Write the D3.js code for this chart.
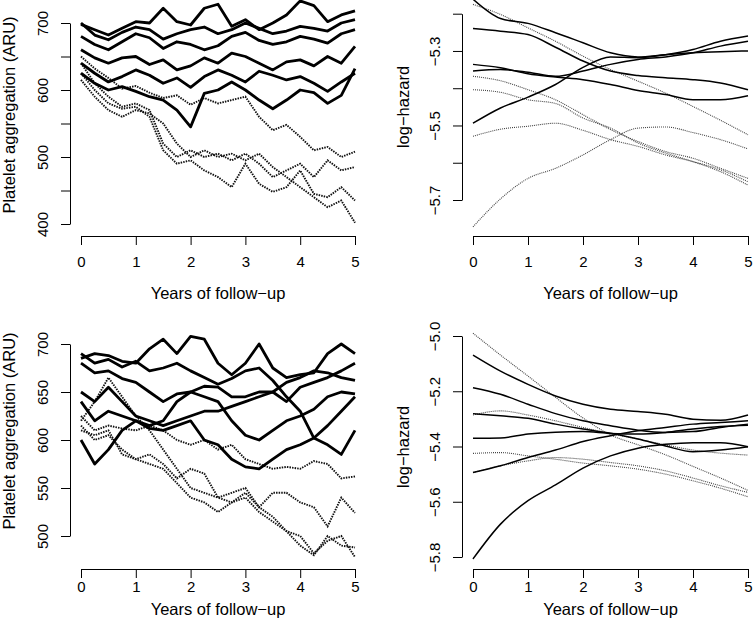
<!DOCTYPE html>
<html>
<head>
<meta charset="utf-8">
<script src="https://cdn.jsdelivr.net/npm/d3@7"></script>
<style>
  body { margin: 0; background: #fff; }
  text { font-family: "Liberation Sans", Arial, Helvetica, sans-serif; fill: #000; }
</style>
</head>
<body>
<div id="chart"></div>
<script>
// Time grids (years of follow-up)
const yearsFine = [0, 0.25, 0.5, 0.75, 1, 1.25, 1.5, 1.75, 2, 2.25, 2.5, 2.75, 3, 3.25, 3.5, 3.75, 4, 4.25, 4.5, 4.75, 5];
const yearsCoarse = [0, 0.5, 1, 1.5, 2, 2.5, 3, 3.5, 4, 4.5, 5];
const xTicks = [0, 1, 2, 3, 4, 5];

// Top-left: platelet aggregation (ARU), solid and dotted trajectories
const topAggSolid = [
  [698, 690, 682, 692, 702, 700, 722, 702, 697, 722, 728, 695, 705, 690, 700, 712, 733, 726, 702, 712, 718],
  [700, 682, 675, 686, 694, 690, 676, 684, 690, 694, 684, 690, 700, 692, 684, 688, 695, 692, 688, 700, 705],
  [680, 668, 660, 672, 684, 678, 662, 672, 668, 660, 666, 680, 686, 674, 668, 672, 680, 676, 670, 684, 690],
  [660, 648, 640, 648, 650, 638, 645, 630, 636, 648, 640, 655, 650, 640, 630, 642, 645, 636, 650, 640, 665],
  [640, 625, 612, 620, 630, 622, 610, 618, 604, 620, 630, 622, 612, 628, 622, 615, 620, 610, 598, 612, 625],
  [625, 610, 600, 605, 598, 590, 585, 570, 545, 595, 600, 612, 600, 585, 572, 585, 600, 596, 580, 592, 632]
];
const topAggDotted = [
  [650, 632, 618, 602, 606, 596, 588, 592, 578, 588, 580, 585, 590, 560, 540, 548, 530, 510, 515, 500, 508],
  [640, 610, 590, 575, 580, 570, 520, 500, 510, 500, 505, 495, 505, 490, 470, 480, 490, 470, 495, 480, 485],
  [625, 600, 580, 572, 575, 560, 510, 490, 495, 480, 470, 455, 490, 460, 448, 455, 480, 445, 440, 455, 435],
  [615, 590, 570, 560, 570, 565, 550, 520, 500, 510, 500, 505, 495, 505, 485, 470, 455, 440, 425, 435, 402]
];
const topAggTicks = [400, 450, 500, 550, 600, 650, 700];
const topAggLabels = [400, 500, 600, 700];

// Top-right: log-hazard
const topHazSolid = [
  [-5.161, -5.213, -5.226, -5.251, -5.278, -5.305, -5.316, -5.31, -5.305, -5.302, -5.30],
  [-5.240, -5.247, -5.256, -5.29, -5.327, -5.354, -5.366, -5.372, -5.377, -5.386, -5.404],
  [-5.336, -5.345, -5.361, -5.37, -5.377, -5.39, -5.406, -5.417, -5.431, -5.431, -5.42],
  [-5.354, -5.35, -5.357, -5.368, -5.354, -5.336, -5.323, -5.316, -5.305, -5.287, -5.274],
  [-5.494, -5.453, -5.424, -5.39, -5.344, -5.316, -5.318, -5.31, -5.296, -5.274, -5.26]
];
const topHazDotted = [
  [-5.175, -5.202, -5.238, -5.274, -5.314, -5.35, -5.381, -5.413, -5.449, -5.486, -5.525],
  [-5.368, -5.38, -5.404, -5.431, -5.471, -5.511, -5.543, -5.57, -5.588, -5.615, -5.642],
  [-5.404, -5.411, -5.431, -5.441, -5.48, -5.507, -5.547, -5.574, -5.597, -5.624, -5.66],
  [-5.529, -5.51, -5.502, -5.494, -5.513, -5.538, -5.556, -5.579, -5.597, -5.619, -5.651],
  [-5.772, -5.697, -5.642, -5.615, -5.579, -5.538, -5.507, -5.504, -5.519, -5.538, -5.563]
];
const topHazTicks = [-5.7, -5.6, -5.5, -5.4, -5.3, -5.2];
const topHazLabels = [-5.7, -5.5, -5.3];

// Bottom-left: platelet aggregation (ARU)
const botAggSolid = [
  [685, 690, 688, 682, 680, 695, 705, 690, 708, 705, 680, 668, 680, 700, 675, 665, 668, 670, 690, 700, 690],
  [690, 680, 684, 676, 682, 672, 675, 680, 672, 665, 658, 664, 672, 675, 662, 645, 630, 602, 595, 585, 610],
  [680, 670, 672, 664, 660, 650, 640, 648, 650, 656, 655, 645, 645, 650, 650, 660, 665, 672, 670, 665, 662],
  [650, 640, 655, 640, 625, 620, 615, 620, 625, 630, 630, 635, 640, 645, 650, 640, 655, 660, 665, 672, 680],
  [640, 620, 630, 625, 620, 612, 610, 615, 620, 600, 595, 580, 572, 570, 580, 590, 595, 602, 615, 630, 645],
  [600, 575, 590, 610, 620, 615, 620, 640, 650, 645, 640, 620, 605, 600, 610, 620, 625, 632, 645, 650, 648]
];
const botAggDotted = [
  [625, 610, 615, 612, 610, 615, 610, 600, 595, 600, 590, 595, 580, 575, 570, 572, 570, 578, 575, 560, 562],
  [620, 640, 665, 645, 625, 610, 590, 570, 550, 545, 540, 545, 550, 530, 545, 545, 535, 530, 510, 540, 524],
  [610, 605, 610, 585, 580, 585, 575, 560, 570, 565, 540, 535, 540, 525, 515, 505, 500, 482, 495, 500, 478],
  [615, 600, 605, 590, 580, 575, 570, 555, 540, 535, 525, 535, 545, 530, 520, 505, 490, 480, 500, 490, 488]
];
const botAggTicks = [500, 550, 600, 650, 700];
const botAggLabels = [500, 550, 600, 650, 700];

// Bottom-right: log-hazard
const botHazSolid = [
  [-5.069, -5.127, -5.175, -5.217, -5.247, -5.265, -5.273, -5.283, -5.301, -5.305, -5.286],
  [-5.187, -5.211, -5.247, -5.281, -5.307, -5.325, -5.341, -5.349, -5.346, -5.331, -5.319],
  [-5.281, -5.289, -5.298, -5.319, -5.337, -5.352, -5.373, -5.398, -5.419, -5.413, -5.401],
  [-5.37, -5.369, -5.355, -5.348, -5.346, -5.353, -5.355, -5.349, -5.337, -5.328, -5.323],
  [-5.494, -5.47, -5.44, -5.413, -5.382, -5.361, -5.343, -5.331, -5.319, -5.313, -5.307],
  [-5.807, -5.681, -5.596, -5.539, -5.478, -5.434, -5.406, -5.392, -5.386, -5.386, -5.401]
];
const botHazDotted = [
  [-4.99, -5.069, -5.145, -5.222, -5.297, -5.358, -5.394, -5.43, -5.472, -5.514, -5.559],
  [-5.286, -5.271, -5.286, -5.307, -5.331, -5.353, -5.373, -5.394, -5.413, -5.424, -5.431],
  [-5.425, -5.422, -5.434, -5.446, -5.46, -5.47, -5.482, -5.5, -5.524, -5.551, -5.582],
  [-5.494, -5.47, -5.452, -5.44, -5.446, -5.458, -5.47, -5.488, -5.514, -5.542, -5.566]
];
const botHazTicks = [-5.8, -5.6, -5.4, -5.2, -5.0];
const botHazLabels = [-5.8, -5.6, -5.4, -5.2, -5.0];

const xTitle = "Years of follow\u2212up";
const aggTitle = "Platelet aggregation (ARU)";
const hazTitle = "log\u2212hazard";

function drawPanel(svg, p) {
  const g = svg.append("g");
  const x = d3.scaleLinear().domain([0, 5]).range(p.xRange);
  const y = d3.scaleLinear().domain(p.yDomain).range(p.yRange);

  const line = d3.line()
    .x(d => x(d[0]))
    .y(d => y(d[1]))
    .curve(p.smooth ? d3.curveMonotoneX : d3.curveLinear);

  // dotted series first, solid on top
  p.dotted.forEach(vals => {
    g.append("path")
      .attr("d", line(p.times.map((t, i) => [t, vals[i]])))
      .attr("fill", "none")
      .attr("stroke", p.smooth ? "#444" : "#111")
      .attr("stroke-width", p.smooth ? 1.1 : 1.9)
      .attr("stroke-dasharray", p.smooth ? "1,1" : "1.5,1.1");
  });
  p.solid.forEach(vals => {
    g.append("path")
      .attr("d", line(p.times.map((t, i) => [t, vals[i]])))
      .attr("fill", "none")
      .attr("stroke", "#000")
      .attr("stroke-width", p.smooth ? 1.5 : 2.8)
      .attr("stroke-linejoin", "round");
  });

  // x axis
  const xa = g.append("g")
    .attr("transform", `translate(0,${p.axisY})`)
    .call(d3.axisBottom(x).tickValues(xTicks).tickSize(9).tickSizeOuter(0).tickFormat(d3.format("d")));
  xa.selectAll("text")
    .attr("y", p.xLabY - p.axisY)
    .attr("dy", "0.35em")
    .style("font-size", "15px");

  // y axis
  const fmt = p.smooth ? d3.format(".1f") : d3.format("d");
  const ya = g.append("g")
    .attr("transform", `translate(${p.axisX},0)`)
    .call(d3.axisLeft(y).tickValues(p.yTicks).tickSize(9).tickSizeOuter(0)
      .tickFormat(d => p.yLabels.some(v => Math.abs(v - d) < 1e-9) ? fmt(d) : ""));
  ya.selectAll("text")
    .attr("x", null)
    .attr("dy", "0.35em")
    .attr("text-anchor", "middle")
    .attr("transform", "translate(-27,0) rotate(-90)")
    .style("font-size", "15px");

  g.selectAll(".domain, .tick line").attr("stroke", "#000").attr("stroke-width", 1);
  g.selectAll(".tick text").attr("fill", "#000").attr("font-family", null);

  // titles
  g.append("text")
    .attr("x", (p.xRange[0] + p.xRange[1]) / 2)
    .attr("y", p.xTitleY)
    .attr("text-anchor", "middle")
    .style("font-size", "16.5px")
    .text(xTitle);

  g.append("text")
    .attr("transform", `translate(${p.yTitleX},${p.yTitleY}) rotate(-90)`)
    .attr("text-anchor", "middle")
    .attr("dy", "0.35em")
    .style("font-size", "16.5px")
    .text(p.yTitle);
}

function init() {
  const svg = d3.select("#chart").append("svg")
    .attr("width", 753)
    .attr("height", 639);

  drawPanel(svg, {
    times: yearsFine, solid: topAggSolid, dotted: topAggDotted, smooth: false,
    xRange: [81, 355], yDomain: [400, 700], yRange: [224, 23],
    axisY: 236, axisX: 70, xLabY: 262, xTitleY: 299,
    yTicks: topAggTicks, yLabels: topAggLabels,
    yTitle: aggTitle, yTitleX: 9, yTitleY: 115
  });
  drawPanel(svg, {
    times: yearsCoarse, solid: topHazSolid, dotted: topHazDotted, smooth: true,
    xRange: [473, 748], yDomain: [-5.7, -5.2], yRange: [200, 13.7],
    axisY: 236, axisX: 462, xLabY: 262, xTitleY: 299,
    yTicks: topHazTicks, yLabels: topHazLabels,
    yTitle: hazTitle, yTitleX: 403, yTitleY: 107
  });
  drawPanel(svg, {
    times: yearsFine, solid: botAggSolid, dotted: botAggDotted, smooth: false,
    xRange: [81, 355], yDomain: [500, 700], yRange: [536, 344],
    axisY: 569, axisX: 70, xLabY: 587, xTitleY: 615,
    yTicks: botAggTicks, yLabels: botAggLabels,
    yTitle: aggTitle, yTitleX: 9, yTitleY: 431
  });
  drawPanel(svg, {
    times: yearsCoarse, solid: botHazSolid, dotted: botHazDotted, smooth: true,
    xRange: [473, 748], yDomain: [-5.8, -5.0], yRange: [557, 336],
    axisY: 569, axisX: 462, xLabY: 587, xTitleY: 615,
    yTicks: botHazTicks, yLabels: botHazLabels,
    yTitle: hazTitle, yTitleX: 403, yTitleY: 447
  });
}

window.onload = init;
</script>
</body>
</html>
